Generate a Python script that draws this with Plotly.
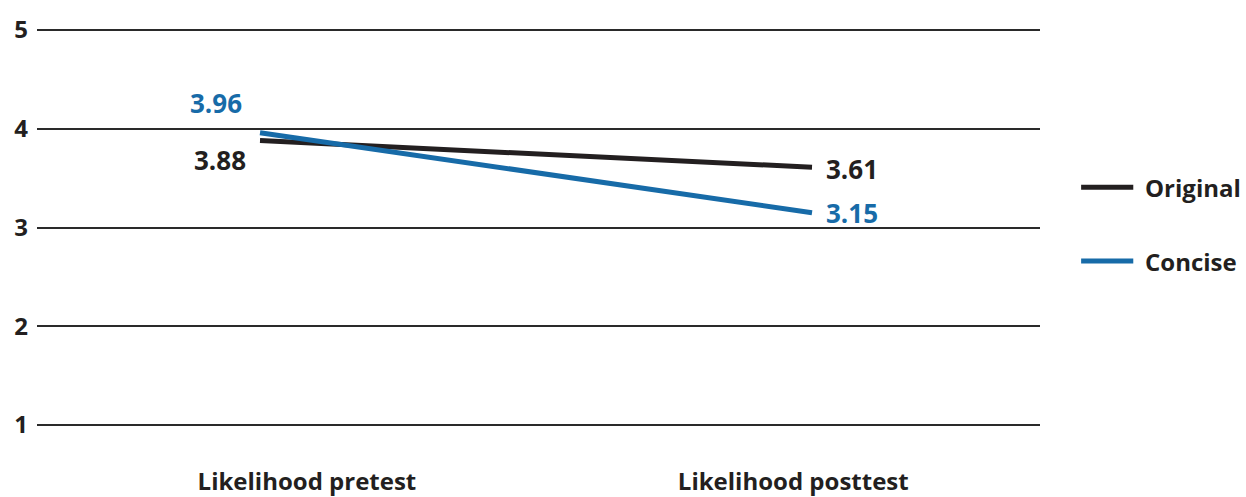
import plotly.graph_objects as go

categories = ["Likelihood pretest", "Likelihood posttest"]
series_names = ["Original", "Concise"]
original = [3.88, 3.61]
concise = [3.96, 3.15]
y_ticks = [1, 2, 3, 4, 5]

colors = {"Original": "#231f20", "Concise": "#176ba8"}
FONT = "Open Sans"

x_pos = [0, 1]
fig = go.Figure()
for name, vals in zip(series_names, [original, concise]):
    fig.add_trace(go.Scatter(x=x_pos, y=vals, mode="lines", name=name,
                             line=dict(color=colors[name], width=5),
                             showlegend=False, hoverinfo="skip"))

# data labels
lab_off = {
    ("Original", 0): (-40, 19), ("Original", 1): (40, 2),
    ("Concise", 0): (-44, -30), ("Concise", 1): (40, 0),
}
for name, vals in zip(series_names, [original, concise]):
    for i, v in enumerate(vals):
        dx, dy = lab_off[(name, i)]
        fig.add_annotation(x=x_pos[i], y=v, text=f"{v:.2f}", showarrow=False,
                           xshift=dx, yshift=-dy,
                           font=dict(family=FONT, size=26, color=colors[name], weight="bold"))

# legend (manual)
leg_y = [0.601, 0.416]
for name, ly in zip(series_names, leg_y):
    fig.add_shape(type="line", xref="paper", yref="paper",
                  x0=1.041, x1=1.093, y0=ly, y1=ly,
                  line=dict(color=colors[name], width=5))
    fig.add_annotation(xref="paper", yref="paper", x=1.103, y=ly, text=name,
                       showarrow=False, xanchor="left", yanchor="middle",
                       font=dict(family=FONT, size=24, color="#231f20", weight="bold"))

fig.update_layout(
    width=1246, height=497,
    margin=dict(l=37, r=206, t=28, b=70),
    paper_bgcolor="white", plot_bgcolor="white",
    font=dict(family=FONT, color="#231f20"),
)
fig.update_xaxes(range=[-0.404, 1.413], tickvals=[0.085, 0.966], ticktext=categories,
                 showgrid=False, zeroline=False, showline=False, ticks="",
                 ticklabelstandoff=38, automargin=False,
                 tickfont=dict(family=FONT, size=24, color="#231f20", weight="bold"))
fig.update_yaxes(range=[0.98, 5.02], tickvals=y_ticks, showgrid=True,
                 gridcolor="#2a2a2a", gridwidth=2, zeroline=False, showline=False,
                 ticks="", ticklabelstandoff=8, automargin=False,
                 tickfont=dict(family=FONT, size=24, color="#231f20", weight="bold"))

fig.write_html("out.html")
